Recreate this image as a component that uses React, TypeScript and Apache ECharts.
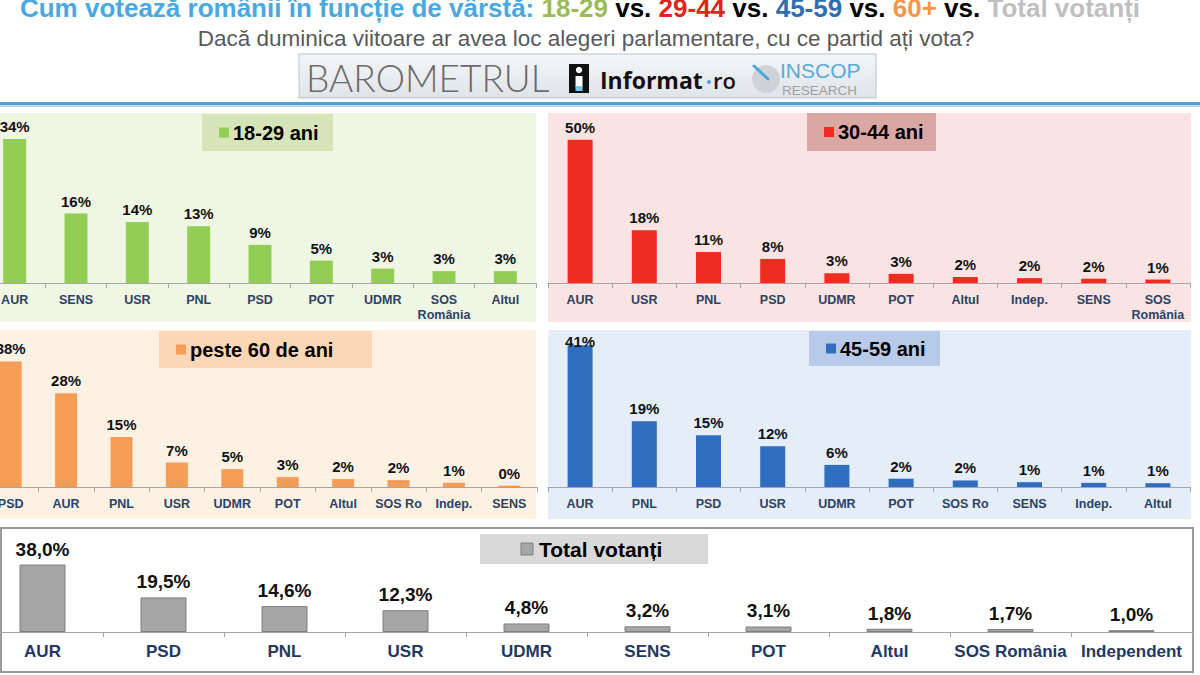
import React, { useEffect, useRef } from "react";
import * as echarts from "echarts";

// ---------- DATA ----------
const youngCats = ["AUR", "SENS", "USR", "PNL", "PSD", "POT", "UDMR", "SOS\nRomânia", "Altul"];
const youngVals = [34, 16.4, 14.4, 13.4, 9, 5.3, 3.4, 2.8, 2.8];

const midCats = ["AUR", "USR", "PNL", "PSD", "UDMR", "POT", "Altul", "Indep.", "SENS", "SOS\nRomânia"];
const midVals = [50, 18.4, 10.8, 8.4, 3.4, 3.2, 2.1, 1.7, 1.5, 1.2];

const seniorCats = ["PSD", "AUR", "PNL", "USR", "UDMR", "POT", "Altul", "SOS Ro", "Indep.", "SENS"];
const seniorVals = [38, 28.4, 15.1, 7.4, 5.4, 3.0, 2.4, 2.1, 1.3, 0.4];

const matureCats = ["AUR", "PNL", "PSD", "USR", "UDMR", "POT", "SOS Ro", "SENS", "Indep.", "Altul"];
const matureVals = [41, 19, 15, 11.8, 6.4, 2.4, 1.9, 1.4, 1.2, 1.1];

const totalCats = ["AUR", "PSD", "PNL", "USR", "UDMR", "SENS", "POT", "Altul", "SOS România", "Independent"];
const totalVals = [38.0, 19.5, 14.6, 12.3, 4.8, 3.2, 3.1, 1.8, 1.7, 1.0];

const panelTitles = ["18-29 ani", "30-44 ani", "peste 60 de ani", "45-59 ani", "Total votanți"];
const titleText = "Cum votează românii în funcție de vârstă:";
const subtitleText = "Dacă duminica viitoare ar avea loc alegeri parlamentare, cu ce partid ați vota?";

// ---------- STYLE ----------
const FONT = "'Liberation Sans', Arial, sans-serif";
const AXIS_COLOR = "#a6a6a6";
const LABEL_NAVY = "#2c4266";
const TITLE_SIZE = 26;

const panels = [
  { cats: youngCats, vals: youngVals, color: "#92cd55", bg: "#f0f6e4", box: "#d5e5b8", left: -16, width: 552, top: 113.6, height: 169.4, max: 40, bw: 23,
    rect: [0, 113, 536, 209], lbox: [202, 114, 131, 37] },
  { cats: midCats, vals: midVals, color: "#ee2d20", bg: "#fae4e3", box: "#dba7a4", left: 548, width: 642, top: 111, height: 172, max: 60, bw: 25,
    rect: [548, 113, 643, 209], lbox: [807, 113, 129, 38] },
  { cats: seniorCats, vals: seniorVals, color: "#f59d56", bg: "#fdf1e4", box: "#fbd7b7", left: -17, width: 554, top: 335, height: 152, max: 46, bw: 22,
    rect: [0, 330, 536, 189], lbox: [159, 331, 213, 37] },
  { cats: matureCats, vals: matureVals, color: "#2f6ebf", bg: "#e4edf8", box: "#b7cbe9", left: 548, width: 642, top: 335, height: 152, max: 44, bw: 25,
    rect: [548, 330, 643, 189], lbox: [809, 331, 131, 35] },
];

export default function App() {
  const ref = useRef<HTMLDivElement>(null);

  useEffect(() => {
    if (!ref.current) return;
    const chart = echarts.init(ref.current, undefined, { renderer: "svg" });

    const grids: any[] = [];
    const xAxes: any[] = [];
    const yAxes: any[] = [];
    const series: any[] = [];
    const graphics: any[] = [];

    panels.forEach((p, i) => {
      grids.push({
        left: p.left, top: p.top, width: p.width, height: p.height,
        containLabel: false, outerBoundsMode: "none",
      });
      xAxes.push({
        type: "category",
        gridIndex: i,
        data: p.cats,
        axisLine: { lineStyle: { color: AXIS_COLOR, width: 1 } },
        axisTick: { show: true, length: 5, lineStyle: { color: AXIS_COLOR } },
        axisLabel: {
          interval: 0,
          color: LABEL_NAVY,
          fontFamily: FONT,
          fontWeight: "bold",
          fontSize: 12.5,
          lineHeight: 15,
          margin: 9,
        },
      });
      yAxes.push({ type: "value", gridIndex: i, min: 0, max: p.max, show: false, splitLine: { show: false } });
      series.push({
        type: "bar",
        xAxisIndex: i,
        yAxisIndex: i,
        barWidth: p.bw,
        itemStyle: { color: p.color },
        label: {
          show: true,
          position: "top",
          distance: 5,
          color: "#111",
          fontFamily: FONT,
          fontWeight: "bold",
          fontSize: 15,
          formatter: (d: any) => Math.round(d.value) + "%",
        },
        data: p.vals.map((v, k) =>
          i === 3 && k === 0 ? { value: v, label: { offset: [0, 9] } } : v
        ),
      });
      graphics.push({
        type: "rect",
        z: -10,
        shape: { x: p.rect[0], y: p.rect[1], width: p.rect[2], height: p.rect[3] },
        style: { fill: p.bg },
      });
      const [bx, by, bw, bh] = p.lbox;
      graphics.push({ type: "rect", z: 50, shape: { x: bx, y: by, width: bw, height: bh }, style: { fill: p.box } });
      graphics.push({
        type: "rect",
        z: 51,
        shape: { x: bx + 17, y: by + bh / 2 - 5, width: 10, height: 10 },
        style: { fill: p.color },
      });
      graphics.push({
        type: "text",
        z: 51,
        x: bx + 31,
        y: by + bh / 2,
        style: {
          text: panelTitles[i],
          fill: "#000",
          font: `bold 20px ${FONT}`,
          verticalAlign: "middle",
          align: "left",
        },
      });
    });

    // total panel
    grids.push({ left: -18, top: 534.4, width: 1210, height: 97.6, containLabel: false, outerBoundsMode: "none" });
    xAxes.push({
      type: "category",
      gridIndex: 4,
      data: totalCats,
      axisLine: { lineStyle: { color: AXIS_COLOR, width: 1 } },
      axisTick: { show: true, length: 5, lineStyle: { color: AXIS_COLOR } },
      axisLabel: {
        interval: 0,
        color: "#1f3864",
        fontFamily: FONT,
        fontWeight: "bold",
        fontSize: 17,
        margin: 11,
      },
    });
    yAxes.push({ type: "value", gridIndex: 4, min: 0, max: 55, show: false, splitLine: { show: false } });
    series.push({
      type: "bar",
      xAxisIndex: 4,
      yAxisIndex: 4,
      barWidth: 46,
      itemStyle: { color: "#a6a6a6", borderColor: "#7f7f7f", borderWidth: 1 },
      label: {
        show: true,
        position: "top",
        distance: 6,
        color: "#111",
        fontFamily: FONT,
        fontWeight: "bold",
        fontSize: 19,
        formatter: (d: any) => d.value.toFixed(1).replace(".", ",") + "%",
      },
      data: totalVals,
    });
    graphics.push({
      type: "rect",
      z: -10,
      shape: { x: 1, y: 528, width: 1192, height: 144 },
      style: { fill: "#ffffff", stroke: "#9a9a9a", lineWidth: 2 },
    });
    graphics.push({ type: "rect", z: 50, shape: { x: 480, y: 534, width: 228, height: 30 }, style: { fill: "#d9d9d9" } });
    graphics.push({ type: "rect", z: 51, shape: { x: 521, y: 543, width: 12, height: 12 }, style: { fill: "#a6a6a6", stroke: "#7f7f7f", lineWidth: 1 } });
    graphics.push({
      type: "text",
      z: 51,
      x: 539,
      y: 549,
      style: { text: panelTitles[4], fill: "#000", font: `bold 21px ${FONT}`, verticalAlign: "middle", align: "left" },
    });

    // separator line
    graphics.push({ type: "rect", z: 1, shape: { x: 0, y: 102, width: 1200, height: 3 }, style: { fill: "#4aa3df" } });
    graphics.push({ type: "rect", z: 1, shape: { x: 0, y: 105, width: 1200, height: 2 }, style: { fill: "#b7dcf3" } });

    // logo strip
    graphics.push({
      type: "rect",
      z: 1,
      shape: { x: 299, y: 54, width: 577, height: 44 },
      style: {
        fill: new echarts.graphic.LinearGradient(0, 0, 0, 1, [
          { offset: 0, color: "#f4f6f8" },
          { offset: 1, color: "#dfe4e9" },
        ]),
        stroke: "#b9c3cc",
        lineWidth: 1,
      },
    });
    graphics.push({
      type: "text",
      z: 2,
      x: 306,
      y: 77,
      style: { text: "BAROMETRUL", fill: "#6a6a6a", font: `300 37px Lato, 'Liberation Sans', sans-serif`, verticalAlign: "middle", align: "left" },
    });
    graphics.push({ type: "rect", z: 2, shape: { x: 569, y: 64, width: 20, height: 29 }, style: { fill: "#111" } });
    graphics.push({ type: "circle", z: 3, shape: { cx: 579, cy: 70, r: 3.2 }, style: { fill: "#fff" } });
    graphics.push({ type: "rect", z: 3, shape: { x: 575.5, y: 76, width: 7, height: 11 }, style: { fill: "#fff" } });
    graphics.push({ type: "rect", z: 3, shape: { x: 575.5, y: 86, width: 7, height: 5 }, style: { fill: "#7cc6ee" } });
    graphics.push({
      type: "text",
      z: 2,
      x: 600,
      y: 80,
      style: { text: "Informat", fill: "#111", font: `bold 23px 'Open Sans', 'Liberation Sans', sans-serif`, verticalAlign: "middle", align: "left" },
    });
    graphics.push({ type: "circle", z: 2, shape: { cx: 709, cy: 82, r: 2 }, style: { fill: "#4aa3df" } });
    graphics.push({
      type: "text",
      z: 2,
      x: 713,
      y: 80,
      style: { text: "ro", fill: "#111", font: `600 22px 'Open Sans', 'Liberation Sans', sans-serif`, verticalAlign: "middle", align: "left" },
    });
    graphics.push({ type: "circle", z: 2, shape: { cx: 766, cy: 79, r: 14 }, style: { fill: "#cfd3d7" } });
    graphics.push({ type: "line", z: 3, shape: { x1: 754, y1: 66, x2: 768, y2: 79 }, style: { stroke: "#4aa3df", lineWidth: 3, lineCap: "round" } });
    graphics.push({
      type: "text",
      z: 2,
      x: 780,
      y: 70,
      style: { text: "INSCOP", fill: "#5aa9d8", font: `21px 'Liberation Sans', Arial, sans-serif`, verticalAlign: "middle", align: "left" },
    });
    graphics.push({
      type: "text",
      z: 2,
      x: 782,
      y: 90,
      style: { text: "RESEARCH", fill: "#a0a0a0", font: `13.5px 'Liberation Sans', Arial, sans-serif`, verticalAlign: "middle", align: "left" },
    });

    const rs = (color: string) => ({ color, fontFamily: FONT, fontWeight: "bold", fontSize: TITLE_SIZE });

    chart.setOption({
      animation: false,
      backgroundColor: "#ffffff",
      title: [
        {
          text:
            `{b|${titleText}} {g|18-29} {k|vs.} {r|29-44} {k|vs.} {bl|45-59} {k|vs.} {o|60+} {k|vs.} {gr|Total votanți}`,
          left: 580,
          top: -5,
          padding: 0,
          textAlign: "center",
          textStyle: {
            fontFamily: FONT,
            fontWeight: "bold",
            fontSize: TITLE_SIZE,
            rich: {
              b: rs("#4aa8e0"),
              g: rs("#9bbb59"),
              k: rs("#000000"),
              r: rs("#e0261b"),
              bl: rs("#2e6db4"),
              o: rs("#f79646"),
              gr: rs("#bfbfbf"),
            },
          },
        },
        {
          text: subtitleText,
          left: 586,
          top: 27,
          padding: 0,
          textAlign: "center",
          textStyle: { fontFamily: FONT, fontWeight: "normal", fontSize: 22.5, color: "#595959" },
        },
      ],
      grid: grids,
      xAxis: xAxes,
      yAxis: yAxes,
      series,
      graphic: { elements: graphics },
    });

    return () => chart.dispose();
  }, []);

  return (
    <div
      ref={ref}
      style={{ position: "fixed", left: 0, top: 0, width: 1200, height: 675 }}
    />
  );
}
